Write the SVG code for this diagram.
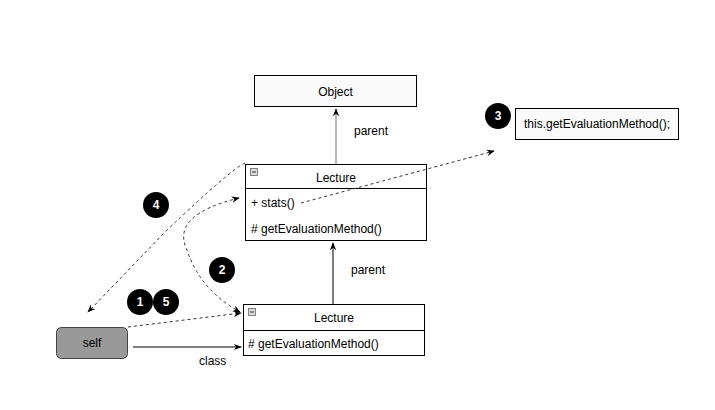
<svg xmlns="http://www.w3.org/2000/svg" width="715" height="410" viewBox="0 0 715 410">
<defs>
<style>
text{font-family:"Liberation Sans",Arial,sans-serif;font-size:12px;fill:#000}
.box{fill:#fff;stroke:#000;stroke-width:1}
.lt{fill:#fafafa;stroke:#000;stroke-width:1}
.c{fill:#000}
.ct{fill:#fff;font-weight:bold;font-size:12px;text-anchor:middle}
.dash{fill:none;stroke:#333;stroke-width:1;stroke-dasharray:3 3}
.solid{fill:none;stroke:#000;stroke-width:1}
.ico{fill:#ddd;stroke:#666;stroke-width:0.8}
</style>
<marker id="ah" viewBox="0 0 10 10" refX="9" refY="5" markerWidth="8" markerHeight="8" orient="auto-start-reverse" markerUnits="userSpaceOnUse">
<path d="M0,1 L10,5 L0,9 L3,5 Z" fill="#000"/>
</marker>
</defs>
<rect width="715" height="410" fill="#fff"/>
<g id="object">
<rect class="lt" x="254.5" y="75.5" width="162" height="31"/>
<text x="335.5" y="96" text-anchor="middle">Object</text>
</g>
<g id="lecture-top">
<rect class="box" x="245.5" y="164.5" width="181" height="76"/>
<line class="solid" x1="245.5" y1="188.5" x2="426.5" y2="188.5"/>
<rect class="ico" x="250.5" y="168.5" width="7" height="7"/>
<line x1="252" y1="172" x2="256" y2="172" stroke="#333" stroke-width="1"/>
<text x="336" y="182" text-anchor="middle">Lecture</text>
<text x="251" y="207">+ stats()</text>
<text x="251" y="233"># getEvaluationMethod()</text>
</g>
<g id="lecture-bottom">
<rect class="box" x="243.5" y="304.5" width="181" height="51"/>
<line class="solid" x1="243.5" y1="330.5" x2="424.5" y2="330.5"/>
<rect class="ico" x="248.5" y="308.5" width="7" height="7"/>
<line x1="250" y1="312" x2="254" y2="312" stroke="#333" stroke-width="1"/>
<text x="334" y="322" text-anchor="middle">Lecture</text>
<text x="248" y="348"># getEvaluationMethod()</text>
</g>
<g id="self">
<rect x="56.5" y="327.5" width="71" height="31" rx="5" fill="#999" stroke="#444"/>
<text x="92" y="347" text-anchor="middle">self</text>
</g>
<g id="code">
<rect class="lt" x="515.5" y="108.5" width="163" height="31"/>
<text x="597" y="128" text-anchor="middle">this.getEvaluationMethod();</text>
</g>
<g id="connectors">
<path class="solid" d="M336,164 L336,109" style="stroke:#777" marker-end="url(#ah)"/>
<text x="354" y="135">parent</text>
<path class="solid" d="M333,304 L333,243" marker-end="url(#ah)"/>
<text x="351" y="274">parent</text>
<path class="solid" d="M133,347 L241,347" marker-end="url(#ah)"/>
<text x="199" y="365">class</text>
<path class="dash" d="M128,327 L241,313" marker-end="url(#ah)"/>
<path class="dash" d="M239,198 Q170,215 187,250 Q200,290 240,312" marker-start="url(#ah)" marker-end="url(#ah)"/>
<path class="dash" d="M245,163 Q230,170 165,232 L88,312" marker-end="url(#ah)"/>
<path class="dash" d="M301,203 L494,151" marker-end="url(#ah)"/>
</g>
<g id="step1"><circle class="c" cx="140" cy="302" r="13"/><text class="ct" x="140" y="306">1</text></g>
<g id="step5"><circle class="c" cx="166" cy="302" r="13"/><text class="ct" x="166" y="306">5</text></g>
<g id="step2"><circle class="c" cx="222" cy="270" r="13"/><text class="ct" x="222" y="274">2</text></g>
<g id="step3"><circle class="c" cx="498" cy="116" r="13"/><text class="ct" x="498" y="120">3</text></g>
<g id="step4"><circle class="c" cx="156" cy="205" r="13"/><text class="ct" x="156" y="209">4</text></g>
</svg>
